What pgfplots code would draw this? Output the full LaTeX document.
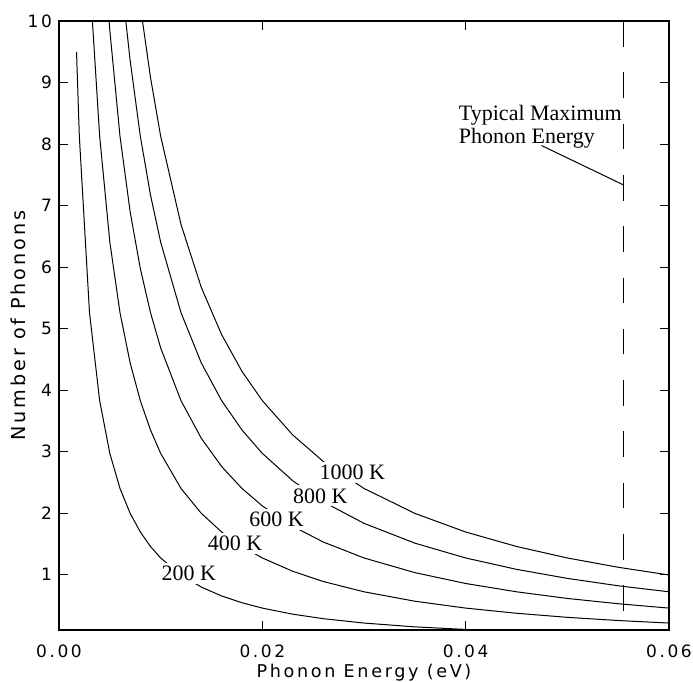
\documentclass[border=0pt]{standalone}
\usepackage{fontspec}
\setmainfont{Liberation Serif}
\newfontfamily\axfont[LetterSpace=15]{DejaVu Sans}
\usepackage{pgfplots}
\pgfplotsset{compat=1.18}

\begin{document}
\begin{tikzpicture}
\begin{axis}[
    scale only axis,
    width=305pt, height=304.5pt,
    xmin=0, xmax=0.06, ymin=0.1, ymax=10,
    xtick={0,0.02,0.04,0.06},
    ytick={1,2,3,4,5,6,7,8,9,10},
    tick align=inside,
    major tick length=4.5pt,
    axis line style={line width=0.7pt},
    every tick/.style={black, line width=0.5pt},
    scaled x ticks=false,
    /pgf/number format/assume math mode=true,
    xticklabel style={/pgf/number format/fixed, /pgf/number format/fixed zerofill,
        /pgf/number format/precision=2, yshift=-4pt},
    ticklabel style={font=\axfont\fontsize{8.5}{9}\selectfont},
    xlabel={Phonon Energy (eV)},
    ylabel={Number of Phonons},
    xlabel style={font=\axfont\fontsize{8.8}{9}\selectfont,
        at={(axis description cs:0.5,-0.07)}, anchor=center},
    ylabel style={font=\axfont\fontsize{9.6}{10}\selectfont,
        at={(axis description cs:-0.066,0.5)}, anchor=center},
    cycle list={{black, mark=none}},
    every axis plot post/.append style={black, mark=none, line width=0.5pt},
]
% 200 K
\addplot coordinates {
  (0.001725,9.5) (0.002,8.127) (0.003,5.259) (0.004,3.828) (0.005,2.971)
  (0.006,2.401) (0.007,1.996) (0.008,1.693) (0.009,1.458) (0.010,1.271)
  (0.012,0.994) (0.014,0.798) (0.016,0.653) (0.018,0.543) (0.020,0.456)
  (0.023,0.357) (0.026,0.284) (0.030,0.213) (0.035,0.151) (0.040,0.109)
  (0.045,0.079)
};
% 400 K
\addplot coordinates {
  (0.003285,10) (0.004,8.127) (0.005,6.405) (0.006,5.259) (0.007,4.441)
  (0.008,3.828) (0.009,3.351) (0.010,2.971) (0.012,2.401) (0.014,1.996)
  (0.016,1.693) (0.018,1.458) (0.020,1.271) (0.023,1.054) (0.026,0.888)
  (0.030,0.721) (0.035,0.568) (0.040,0.456) (0.045,0.372) (0.050,0.306)
  (0.055,0.254) (0.060,0.213)
};
% 600 K
\addplot coordinates {
  (0.004928,10) (0.005,9.848) (0.006,8.127) (0.007,6.897) (0.008,5.976)
  (0.009,5.259) (0.010,4.686) (0.012,3.828) (0.014,3.216) (0.016,2.757)
  (0.018,2.401) (0.020,2.117) (0.023,1.785) (0.026,1.530) (0.030,1.271)
  (0.035,1.033) (0.040,0.856) (0.045,0.721) (0.050,0.613) (0.055,0.527)
  (0.060,0.456)
};
% 800 K
\addplot coordinates {
  (0.006570,10) (0.007,9.356) (0.008,8.127) (0.009,7.171) (0.010,6.405)
  (0.012,5.259) (0.014,4.441) (0.016,3.828) (0.018,3.351) (0.020,2.971)
  (0.023,2.525) (0.026,2.183) (0.030,1.834) (0.035,1.512) (0.040,1.271)
  (0.045,1.086) (0.050,0.939) (0.055,0.819) (0.060,0.721)
};
% 1000 K
\addplot coordinates {
  (0.008213,10) (0.009,9.083) (0.010,8.127) (0.012,6.693) (0.014,5.668)
  (0.016,4.901) (0.018,4.304) (0.020,3.828) (0.023,3.269) (0.026,2.839)
  (0.030,2.401) (0.035,1.996) (0.040,1.693) (0.045,1.458) (0.050,1.271)
  (0.055,1.120) (0.060,0.994)
};
% typical maximum phonon energy
\addplot[dash pattern=on 12.8pt off 12.85pt] coordinates {(0.0555,10) (0.0555,0.4)};
\addplot[solid] coordinates {(0.04746,7.976) (0.0555,7.337)};

\node[anchor=west, align=left, inner sep=0pt, font=\fontsize{11}{11.2}\selectfont]
  at (axis cs:0.0393,8.28) {Typical Maximum\\Phonon Energy};

\node[fill=white, inner sep=1.5pt, font=\fontsize{11}{13}\selectfont] at (axis cs:0.02886,2.665) {1000 K};
\node[fill=white, inner sep=1.5pt, font=\fontsize{11}{13}\selectfont] at (axis cs:0.0257,2.28) {800 K};
\node[fill=white, inner sep=1.5pt, font=\fontsize{11}{13}\selectfont] at (axis cs:0.0214,1.90) {600 K};
\node[fill=white, inner sep=1.5pt, font=\fontsize{11}{13}\selectfont] at (axis cs:0.01733,1.51) {400 K};
\node[fill=white, inner sep=1.5pt, font=\fontsize{11}{13}\selectfont] at (axis cs:0.01276,1.02) {200 K};
\end{axis}
\pgfresetboundingbox
\useasboundingbox (-29.5pt,-26pt) rectangle (317pt,315pt);
\end{tikzpicture}
\end{document}
